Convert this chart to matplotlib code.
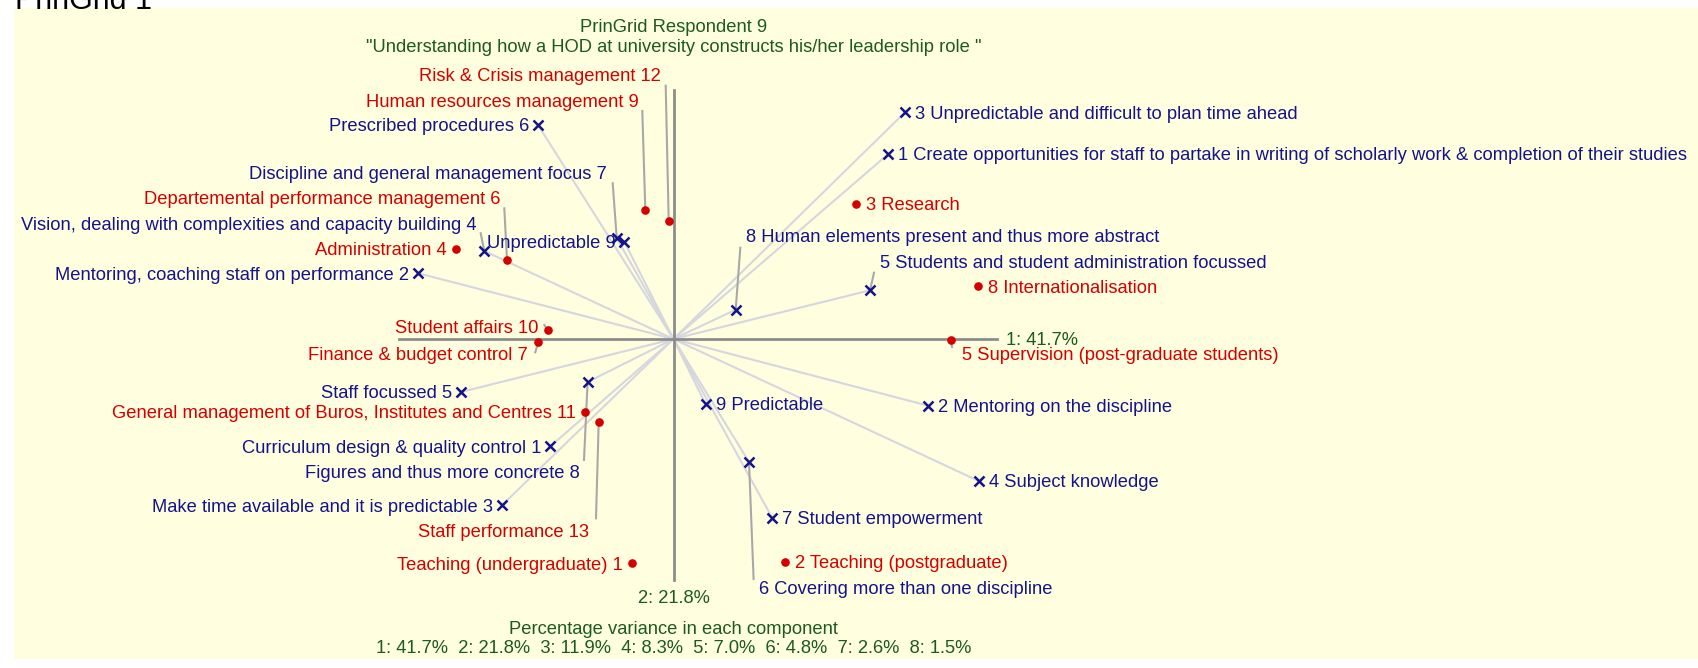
import matplotlib
matplotlib.use("Agg")
import matplotlib.pyplot as plt
from matplotlib.patches import Rectangle

plt.rcParams['font.family'] = ['Liberation Sans', 'DejaVu Sans']

W, H = 1698, 668
OX, OY = 673.5, 339      # where the origin sits in the picture (pixels)
PX = 100.0               # pixels per component unit

# construct poles (component 1, component 2)
construct_num = [1, 2, 3, 4, 5, 6, 7, 8, 9]
left_pole = ['Curriculum design & quality control', 'Mentoring, coaching staff on performance',
             'Make time available and it is predictable',
             'Vision, dealing with complexities and capacity building', 'Staff focussed',
             'Prescribed procedures', 'Discipline and general management focus',
             'Figures and thus more concrete', 'Unpredictable']
right_pole = ['Create opportunities for staff to partake in writing of scholarly work & completion of their studies',
              'Mentoring on the discipline', 'Unpredictable and difficult to plan time ahead',
              'Subject knowledge', 'Students and student administration focussed',
              'Covering more than one discipline', 'Student empowerment',
              'Human elements present and thus more abstract', 'Predictable']
left_x = [-1.231, -2.552, -1.713, -1.892, -2.125, -1.355, -0.568, -0.859, -0.492]
left_y = [-1.073, 0.657, -1.660, 0.880, -0.530, 2.140, 1.010, -0.430, 0.973]
right_x = [2.148, 2.545, 2.315, 3.052, 1.965, 0.755, 0.988, 0.622, 0.320]
right_y = [1.850, -0.667, 2.267, -1.420, 0.487, -1.230, -1.790, 0.293, -0.650]

# elements
element_num = list(range(1, 14))
element_names = ['Teaching (undergraduate)', 'Teaching (postgraduate)', 'Research', 'Administration',
                 'Supervision (post-graduate students)', 'Departemental performance management',
                 'Finance & budget control', 'Internationalisation', 'Human resources management',
                 'Student affairs', 'General management of Buros, Institutes and Centres',
                 'Risk & Crisis management', 'Staff performance']
element_x = [-0.418, 1.112, 1.825, -2.175, 2.771, -1.665, -1.352, 3.042, -0.282, -1.252, -0.885, -0.048, -0.748]
element_y = [-2.240, -2.230, 1.354, 0.903, -0.010, 0.790, -0.030, 0.525, 1.293, 0.087, -0.730, 1.177, -0.830]

variance = [41.7, 21.8, 11.9, 8.3, 7.0, 4.8, 2.6, 1.5]

# labels moved away from their point: (label anchor, leader start)
element_leaders = {
    12: ((-0.125, 2.64), (-0.078, 2.533)),
    9: ((-0.345, 2.383), (-0.312, 2.28)),
    6: ((-1.735, 1.413), (-1.692, 1.307)),
    10: ((-1.347, 0.123), (-1.292, 0.14)),
    7: ((-1.455, -0.143), (-1.382, -0.133)),
    13: ((-0.842, -1.913), (-0.775, -1.793)),
    5: ((2.881, -0.15), (2.785, -0.08)),
}
left_leaders = {
    7: ((-0.665, 1.667), (-0.608, 1.557)),
    4: ((-1.967, 1.157), (-1.928, 1.057)),
    8: ((-0.94, -1.33), (-0.895, -1.21)),
}
right_leaders = {
    8: ((0.722, 1.03), (0.668, 0.913)),
    5: ((2.06, 0.773), (2.005, 0.663)),
    6: ((0.859, -2.49), (0.801, -2.40)),
}

BLUE = '#14148a'
RED = '#d40000'
GREEN = '#1d5a1d'
FS = 13.2
VA = 'center_baseline'

fig = plt.figure(figsize=(W / 100, H / 100), dpi=100)
ax = fig.add_axes([0, 0, 1, 1])
ax.set_xlim(-OX / PX, (W - OX) / PX)
ax.set_ylim(-(H - OY) / PX, OY / PX)
ax.axis('off')
ax.add_patch(Rectangle((14 / W, 1 - 659 / H), 1, (659 - 8) / H,
                       transform=fig.transFigure, facecolor='#ffffe0',
                       edgecolor='none', zorder=0))

# component axes
ax.plot([-2.745, 3.235], [0, 0], color='#8c8c8c', lw=2, zorder=2)
ax.plot([0, 0], [-2.41, 2.49], color='#8c8c8c', lw=2, zorder=2)
ax.text(3.325, 0.0, '1: %.1f%%' % variance[0], color=GREEN, fontsize=FS, ha='left', va=VA)
ax.text(0, -2.577, '2: %.1f%%' % variance[1], color=GREEN, fontsize=FS, ha='center', va=VA)

# constructs
for i, n in enumerate(construct_num):
    for (px_, py_, name, side, leaders) in [
            (left_x[i], left_y[i], '%s %d' % (left_pole[i], n), 'left', left_leaders),
            (right_x[i], right_y[i], '%d %s' % (n, right_pole[i]), 'right', right_leaders)]:
        ax.plot([0, px_], [0, py_], color='#d6d6de', lw=1.5, zorder=1)
        ax.plot(px_, py_, marker='x', color=BLUE, ms=6.5, mew=1.8, zorder=4)
        ha = 'right' if side == 'left' else 'left'
        if n in leaders:
            (tx, ty), (lx, ly) = leaders[n]
            ax.plot([lx, px_], [ly, py_], color='#a8a8a8', lw=1.5, zorder=3)
            ax.text(tx, ty, name, color=BLUE, fontsize=FS, ha=ha, va=VA, zorder=5)
        else:
            off = -9 if side == 'left' else 10
            ax.annotate(name, (px_, py_), xytext=(off, 0), textcoords='offset pixels',
                        color=BLUE, fontsize=FS, ha=ha, va=VA, zorder=5)

# elements
for i, n in enumerate(element_num):
    ex, ey = element_x[i], element_y[i]
    ax.plot(ex, ey, 'o', color=RED, ms=5.2, zorder=4)
    if ex < 0:
        name, ha, off = '%s %d' % (element_names[i], n), 'right', -9
    else:
        name, ha, off = '%d %s' % (n, element_names[i]), 'left', 10
    if n in element_leaders:
        (tx, ty), (lx, ly) = element_leaders[n]
        ax.plot([lx, ex], [ly, ey], color='#a8a8a8', lw=1.5, zorder=3)
        ax.text(tx, ty, name, color=RED, fontsize=FS, ha=ha, va=VA, zorder=5)
    else:
        ax.annotate(name, (ex, ey), xytext=(off, 0), textcoords='offset pixels',
                    color=RED, fontsize=FS, ha=ha, va=VA, zorder=5)

# titles
fig.text(15 / W, 1 - 9 / H, 'PrinGrid 1', fontsize=22, color='black', ha='left', va='baseline')
fig.text(OX / W, 1 - 26 / H, 'PrinGrid Respondent 9', color=GREEN, fontsize=FS, ha='center', va=VA)
fig.text(OX / W, 1 - 45 / H,
         '"Understanding how a HOD at university constructs his/her leadership role "',
         color=GREEN, fontsize=FS, ha='center', va=VA)
fig.text(OX / W, 1 - 627.5 / H, 'Percentage variance in each component', color=GREEN,
         fontsize=FS, ha='center', va=VA)
var_line = '  '.join('%d: %.1f%%' % (k + 1, v) for k, v in enumerate(variance))
fig.text(OX / W, 1 - 646.5 / H, var_line, color=GREEN, fontsize=FS, ha='center', va=VA)

fig.savefig('out.png', dpi=100)
